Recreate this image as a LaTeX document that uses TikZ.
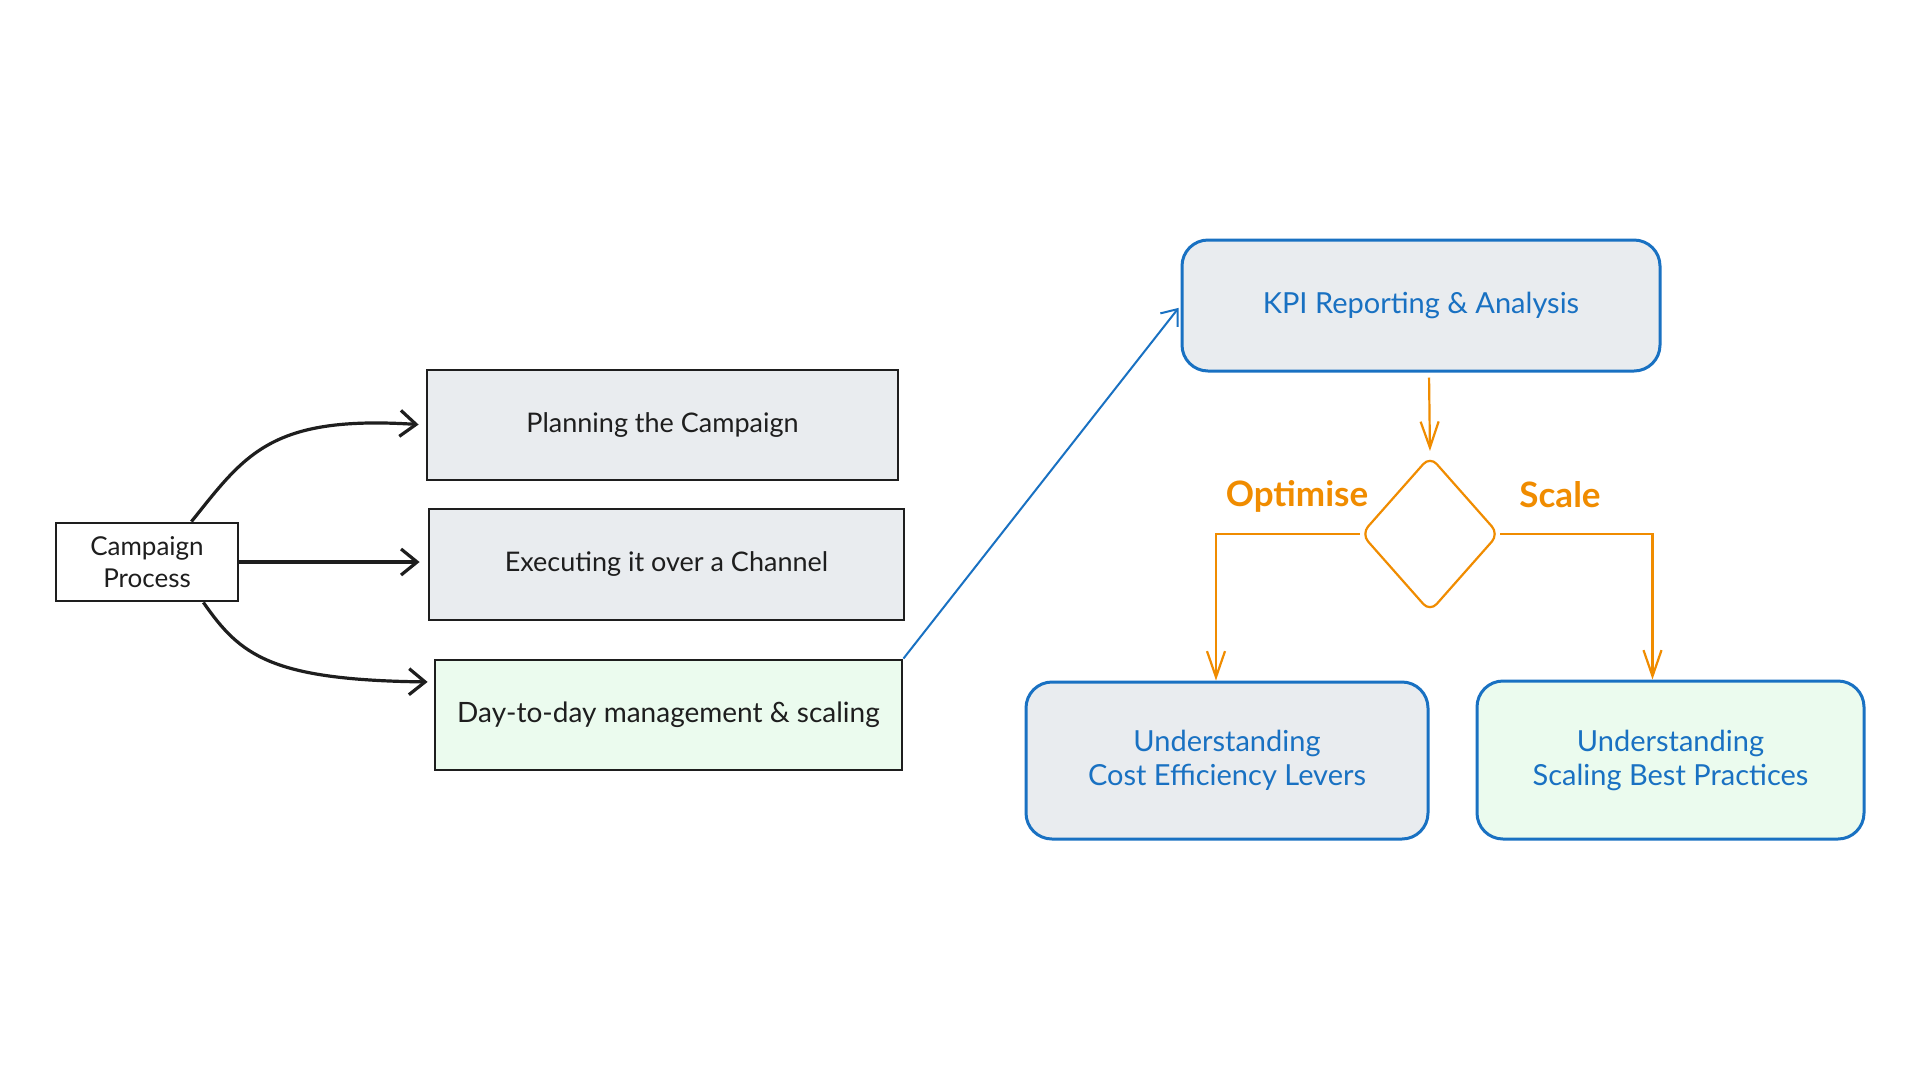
\documentclass[tikz,border=0pt]{standalone}
\usepackage{fontspec}
\setmainfont{Lato}
\usetikzlibrary{arrows.meta,shapes.geometric,calc}
\definecolor{ink}{HTML}{1E1E1E}
\definecolor{gfill}{HTML}{E9ECEF}
\definecolor{grfill}{HTML}{EBFBEE}
\definecolor{eblue}{HTML}{1971C2}
\definecolor{eorange}{HTML}{F08C00}
\tikzset{
  blackbox/.style={draw=ink, line width=2.8pt, fill=gfill, align=center, font=\fontsize{27}{31}\selectfont, text=ink, inner sep=0pt},
  bluebox/.style={draw=eblue, line width=3pt, fill=gfill, rounded corners=26pt, align=center, font=\fontsize{29}{34}\selectfont, text=eblue, inner sep=0pt},
  blackarrow/.style={draw=ink, line width=3.2pt, -{Straight Barb[length=16pt,width=26pt,line width=3.2pt]}},
  bluearrow/.style={draw=eblue, line width=2pt, -{Straight Barb[length=14pt,width=22pt,line width=2pt]}},
  orarrow/.style={draw=eorange, line width=2.2pt, -{Straight Barb[length=26pt,width=18pt,line width=2.2pt]}},
  orlabel/.style={text=eorange, font=\fontsize{35}{38}\selectfont\bfseries}
}
\begin{document}
\begin{tikzpicture}[x=1pt,y=-1pt]
\path[use as bounding box, fill=white] (0,0) rectangle (1920,1080);

\node[blackbox, fill=white, font=\fontsize{26}{32}\selectfont, minimum width=182pt, minimum height=78pt] (cp) at (147,562) {Campaign\\Process};
\node[blackbox, minimum width=471pt, minimum height=110pt] (plan) at (662.5,425) {Planning the Campaign};
\node[blackbox, minimum width=475pt, minimum height=111pt] (exec) at (666.5,564.5) {Executing it over a Channel};
\node[blackbox, fill=grfill, font=\fontsize{28}{32}\selectfont, minimum width=467pt, minimum height=110pt] (day) at (668.5,715) {Day-to-day management \& scaling};

\node[bluebox, minimum width=478pt, minimum height=131pt] (kpi) at (1421,305.5) {KPI Reporting \& Analysis};
\node[draw=eorange, line width=2.2pt, diamond, rounded corners=10pt, minimum width=138pt, minimum height=156pt, inner sep=0pt] (dia) at (1430,534) {};
\node[bluebox, minimum width=402pt, minimum height=157pt] (cost) at (1227,760.5) {Understanding\\Cost Efficiency Levers};
\node[bluebox, fill=grfill, minimum width=387pt, minimum height=158pt] (scal) at (1670.5,760) {Understanding\\Scaling Best Practices};

\draw[blackarrow, shorten >=7pt] ([xshift=-48pt]cp.north east) .. controls (245,455) and (270,415) .. (plan.west);
\draw[blackarrow, shorten >=8pt] (cp.east) -- (cp.east -| exec.west);
\draw[blackarrow, shorten >=6pt] ([xshift=-36pt]cp.south east) .. controls (240,655) and (270,680) .. ([yshift=33pt]day.west);

\draw[bluearrow, shorten >=3pt] (day.north east) -- (kpi.west);

\draw[orarrow, shorten <=5pt, shorten >=4pt] ([xshift=8pt]kpi.south) -- (dia.north);
\draw[orarrow] (dia.west) -| ([xshift=-11pt]cost.north);
\draw[orarrow] (dia.east) -| ([xshift=-18pt]scal.north);

\node[orlabel] (opt) at (1297,496) {Optimise};
\node[orlabel] (sca) at (1560,495) {Scale};
\end{tikzpicture}
\end{document}
